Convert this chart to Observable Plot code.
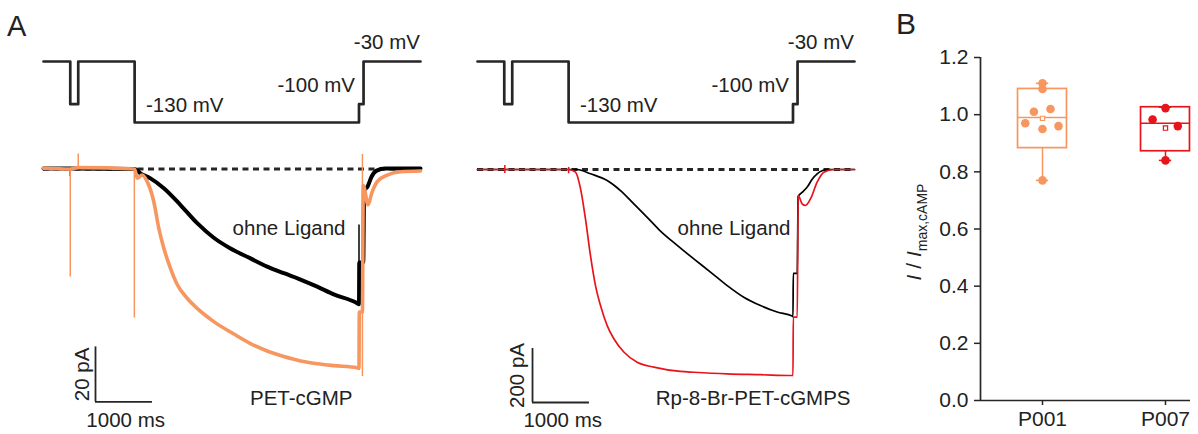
<!DOCTYPE html>
<html><head><meta charset="utf-8">
<script src="https://cdn.jsdelivr.net/npm/d3@7"></script>
<script src="https://cdn.jsdelivr.net/npm/@observablehq/plot@0.6"></script>
<style>
html,body{margin:0;padding:0;background:#fff;}
#fig{position:relative;width:1198px;height:434px;overflow:hidden;font-family:"Liberation Sans",Arial,sans-serif;color:#222;}
.layer{position:absolute;}
.layer svg{max-width:none !important;display:block;}
.lbl{position:absolute;white-space:nowrap;line-height:1;color:#222;}
.ylab{position:absolute;white-space:nowrap;font-size:21px;line-height:21px;transform:translate(-50%,-50%) rotate(-90deg);color:#222;}
.ylab sub{font-size:14px;line-height:0;vertical-align:-6px;}
</style></head>
<body><div id="fig"></div>
<script>
// ---------- DATA ----------
// Voltage protocol (ms, mV)
const protoT = [0, 470, 610, 1600, 5540, 5620, 6620];
const protoV = [-30, -100, -30, -130, -100, -30, -30];
const protoLabels = ["-30 mV", "-100 mV", "-130 mV"];

// Left: PET-cGMP (pA)
const leftBlackT = [0, 1600, 1703, 1879, 2113, 2406, 2699, 2990, 3284, 3635, 3928, 4220, 4513, 4806, 5097, 5508, 5540, 5545, 5615, 5630, 5690, 5760, 5850, 6000, 6620];
const leftBlackI = [0.2, 0, -1.6, -3.4, -7.0, -13.1, -19.7, -25.0, -28.9, -32.5, -35.5, -37.9, -40.2, -42.8, -45.6, -48.8, -49.2, -34, -34, -8, -6.4, -2.8, -0.6, 0.2, 0.2];
const leftBlackSpikeT = [470, 5540];
const leftBlackSpikeLo = [-2.8, -49];
const leftBlackSpikeHi = [0, -20.4];
const leftOrangeT = [0, 470, 610, 1600, 1645, 1733, 1821, 1937, 2025, 2113, 2230, 2348, 2523, 2699, 2990, 3342, 3635, 3928, 4220, 4513, 4806, 5097, 5508, 5540, 5545, 5600, 5615, 5700, 5760, 5860, 6035, 6269, 6620];
const leftOrangeI = [0.3, 0, 0.5, 0, -3.3, -2.2, -4.6, -11.9, -21.6, -28.8, -36.1, -42.0, -47.0, -50.7, -55.5, -60.0, -63.5, -66.2, -68.2, -69.8, -70.8, -71.5, -72.3, -72.5, -52, -52, -6, -13, -9, -4.6, -2.2, -1, -0.7];
const leftOrangeSpikeT = [470, 610, 1595, 5600];
const leftOrangeSpikeLo = [-39.3, 0, -54.2, -75.5];
const leftOrangeSpikeHi = [0, 5.5, 0, 5.3];
const leftCompound = "PET-cGMP";

// Right: Rp-8-Br-PET-cGMPS (pA)
const rightBlackT = [0, 1600, 1751, 1984, 2277, 2511, 2745, 2980, 3213, 3507, 3798, 4091, 4385, 4676, 4969, 5262, 5526, 5540, 5545, 5615, 5630, 5700, 5790, 5880, 5964, 6060, 6140, 6620];
const rightBlackI = [0, 0, 0, -16, -41, -78, -127, -177, -228, -281, -331, -380, -430, -473, -504, -528, -543, -545, -385, -385, -100, -85, -65, -35, -16, -4, 0, 0];
const rightRedT = [0, 1603, 1721, 1809, 1896, 1984, 2072, 2160, 2277, 2394, 2569, 2804, 3096, 3565, 3798, 4385, 4969, 5526, 5540, 5545, 5615, 5630, 5701, 5759, 5847, 5964, 6081, 6256, 6620];
const rightRedI = [0, 0, -10, -71, -183, -319, -430, -504, -578, -627, -676, -714, -732, -748, -751, -757, -760, -763, -763, -547, -547, -96, -127, -133, -109, -47, -10, 0, 0];
const rightRedSpikeT = [480, 1600];
const rightRedSpikeLo = [-15, -16];
const rightRedSpikeHi = [15, 8];
const rightCompound = "Rp-8-Br-PET-cGMPS";

const noLigand = "ohne Ligand";
const scaleBarMs = 1000;
const leftScalePa = 20;
const rightScalePa = 200;

// Panel B
const groups = ["P001", "P007"];
const p001Values = [1.11, 1.09, 1.01, 1.02, 0.97, 0.95, 0.96, 0.77];
const p001Jitter = [0, 0, -0.07, 0.065, -0.14, 0, 0.13, 0];
const p007Values = [1.023, 0.983, 0.960, 0.84];
const p007Jitter = [0, -0.105, 0.1, 0];
const boxMin = [0.77, 0.84];
const boxQ1 = [0.883, 0.872];
const boxMedian = [0.99, 0.97];
const boxQ3 = [1.09, 1.026];
const boxMax = [1.11, 1.026];
const boxMean = [0.987, 0.953];
const yTicks = [0, 0.2, 0.4, 0.6, 0.8, 1.0, 1.2];

// ---------- STYLE ----------
const ORANGE = "#f7965f";
const RED = "#e8141b";
const DARK = "#262626";
const FS = 20.5;
const STYLE = "background:transparent;overflow:visible;font-family:'Liberation Sans',Arial,sans-serif;font-size:20px;color:#222;";

const fig = document.getElementById("fig");
function place(node, left, top) {
  const d = document.createElement("div");
  d.className = "layer";
  d.style.left = left + "px";
  d.style.top = top + "px";
  d.appendChild(node);
  fig.appendChild(d);
}
function label(html, cls, left, top, size) {
  const d = document.createElement("div");
  d.className = cls;
  d.style.left = left + "px";
  d.style.top = top + "px";
  if (size) d.style.fontSize = size + "px";
  d.innerHTML = html;
  fig.appendChild(d);
}
const tr = (T, I) => T.map((t, k) => ({t, i: I[k]}));
const sp = (T, lo, hi) => T.map((t, k) => ({t, lo: lo[k], hi: hi[k]}));

function protocol(xRange) {
  return Plot.plot({
    width: 440, height: 140, margin: 0, style: STYLE,
    x: {domain: [0, 6620], range: xRange, axis: null},
    y: {domain: [-130, -30], range: [122, 61], axis: null},
    marks: [
      Plot.line(tr(protoT, protoV), {x: "t", y: "i", curve: "step-after", stroke: DARK, strokeWidth: 2.7}),
      Plot.text([protoLabels[0]], {x: 6610, y: 2, text: d => d, textAnchor: "end", lineAnchor: "middle", fontSize: FS}),
      Plot.text([protoLabels[1]], {x: 5470, y: -69, text: d => d, textAnchor: "end", lineAnchor: "middle", fontSize: FS}),
      Plot.text([protoLabels[2]], {x: 1800, y: -101.5, text: d => d, textAnchor: "start", lineAnchor: "middle", fontSize: FS})
    ]
  });
}

function currents(opt) {
  return Plot.plot({
    width: 440, height: 294, margin: 0, style: STYLE,
    x: {domain: [0, 6620], range: opt.xRange, axis: null},
    y: {domain: opt.yDomain, range: opt.yRange, axis: null},
    marks: [
      Plot.ruleY([0], {x1: 0, x2: 6620, stroke: DARK, strokeWidth: 3, strokeDasharray: "6 4.5"}),
      Plot.line(opt.black, {x: "t", y: "i", curve: "monotone-x", stroke: "#000", strokeWidth: opt.bw}),
      Plot.ruleX(opt.blackSpikes, {x: "t", y1: "lo", y2: "hi", stroke: "#000", strokeWidth: 1.5}),
      Plot.line(opt.col, {x: "t", y: "i", curve: "monotone-x", stroke: opt.color, strokeWidth: opt.cw}),
      Plot.ruleX(opt.colSpikes, {x: "t", y1: "lo", y2: "hi", stroke: opt.color, strokeWidth: 1.5}),
      // scale bars
      Plot.ruleY([opt.sbY], {x1: opt.sbX, x2: opt.sbX + scaleBarMs, stroke: DARK, strokeWidth: 1.8}),
      Plot.ruleX([opt.sbX], {y1: opt.sbY, y2: opt.sbY + opt.sbPa, stroke: DARK, strokeWidth: 1.8}),
      Plot.text([scaleBarMs + " ms"], {x: opt.sbX + 530, y: opt.msY, text: d => d, lineAnchor: "middle", fontSize: FS}),
      Plot.text([opt.sbPa + " pA"], {x: opt.paX, y: opt.sbY + opt.sbPa / 2, text: d => d, rotate: -90, lineAnchor: "middle", fontSize: FS}),
      Plot.text([noLigand], {x: opt.nlX, y: opt.nlY, text: d => d, textAnchor: "end", lineAnchor: "middle", fontSize: FS}),
      Plot.text([opt.name], {x: opt.nameX, y: opt.nameY, text: d => d, textAnchor: "end", lineAnchor: "middle", fontSize: FS})
    ]
  });
}

// Panel A left
place(protocol([43, 420]), 0, 0);
place(currents({
  xRange: [43, 420], yDomain: [10, -90], yRange: [1, 276],
  black: tr(leftBlackT, leftBlackI), bw: 4,
  blackSpikes: sp(leftBlackSpikeT, leftBlackSpikeLo, leftBlackSpikeHi),
  col: tr(leftOrangeT, leftOrangeI), cw: 3.6, color: ORANGE,
  colSpikes: sp(leftOrangeSpikeT, leftOrangeSpikeLo, leftOrangeSpikeHi),
  sbX: 913, sbY: -84.7, sbPa: leftScalePa, msY: -91.3, paX: 680,
  nlX: 5303, nlY: -21.5, name: leftCompound, nameX: 5426, nameY: -83.3
}), 0, 140);

// Panel A right
place(protocol([37, 414]), 440, 0);
place(currents({
  xRange: [37, 414], yDomain: [100, -900], yRange: [2, 272],
  black: tr(rightBlackT, rightBlackI), bw: 1.7,
  blackSpikes: [],
  col: tr(rightRedT, rightRedI), cw: 1.7, color: RED,
  colSpikes: sp(rightRedSpikeT, rightRedSpikeLo, rightRedSpikeHi),
  sbX: 966, sbY: -863, sbPa: rightScalePa, msY: -930, paX: 697,
  nlX: 5496, nlY: -218.5, name: rightCompound, nameX: 6550, nameY: -848
}), 440, 140);

// Panel B
const groupColors = [ORANGE, RED];
const boxes = groups.map((g, k) => ({x: k + 1, min: boxMin[k], q1: boxQ1[k], med: boxMedian[k], q3: boxQ3[k], max: boxMax[k], mean: boxMean[k], c: groupColors[k]}));
const pts = [
  ...p001Values.map((v, k) => ({x: 1 + p001Jitter[k], y: v, c: ORANGE})),
  ...p007Values.map((v, k) => ({x: 2 + p007Jitter[k], y: v, c: RED}))
];
const HW = 0.199, CAP = 0.05;
const xMin = 0.4959;
place(Plot.plot({
  width: 318, height: 434, marginLeft: 100, marginRight: 8, marginTop: 57, marginBottom: 34,
  style: STYLE,
  x: {domain: [xMin, 2.2033], axis: null},
  y: {domain: [0, 1.2], axis: null},
  color: {type: "identity"},
  marks: [
    Plot.axisY({ticks: yTicks, tickFormat: d3.format(".1f"), tickSize: 6, tickPadding: 6, fontSize: 21, label: null, stroke: DARK, strokeWidth: 1.5}),
    Plot.axisX({ticks: [1, 2], tickFormat: d => groups[d - 1], tickSize: 5, tickPadding: 6, fontSize: 21, label: null, stroke: DARK, strokeWidth: 1.5}),
    Plot.ruleY([0], {stroke: DARK, strokeWidth: 1.7}),
    Plot.ruleX([xMin], {y1: 0, y2: 1.2, stroke: DARK, strokeWidth: 1.7}),
    Plot.ruleX(boxes, {x: "x", y1: "min", y2: "q1", stroke: "c", strokeWidth: 1.5}),
    Plot.ruleX(boxes, {x: "x", y1: "q3", y2: "max", stroke: "c", strokeWidth: 1.5}),
    Plot.ruleY(boxes, {y: "min", x1: d => d.x - CAP, x2: d => d.x + CAP, stroke: "c", strokeWidth: 1.5}),
    Plot.ruleY(boxes, {y: "max", x1: d => d.x - CAP, x2: d => d.x + CAP, stroke: "c", strokeWidth: 1.5}),
    Plot.rect(boxes, {x1: d => d.x - HW, x2: d => d.x + HW, y1: "q1", y2: "q3", fill: "none", stroke: "c", strokeWidth: 1.7}),
    Plot.ruleY(boxes, {y: "med", x1: d => d.x - HW, x2: d => d.x + HW, stroke: "c", strokeWidth: 1.5}),
    Plot.dot(pts, {x: "x", y: "y", r: 4.3, fill: "c", stroke: "none"}),
    Plot.dot(boxes, {x: "x", y: "mean", symbol: "square", r: 2.4, fill: "white", stroke: "c", strokeWidth: 1.2})
  ]
}), 880, 0);

// Panel letters and axis label
label("A", "lbl", 7, 12, 29);
label("B", "lbl", 896, 9, 30);
label("<i>I</i> / <i>I</i><sub>max,cAMP</sub>", "ylab", 912.7, 231.5);
</script></body></html>
